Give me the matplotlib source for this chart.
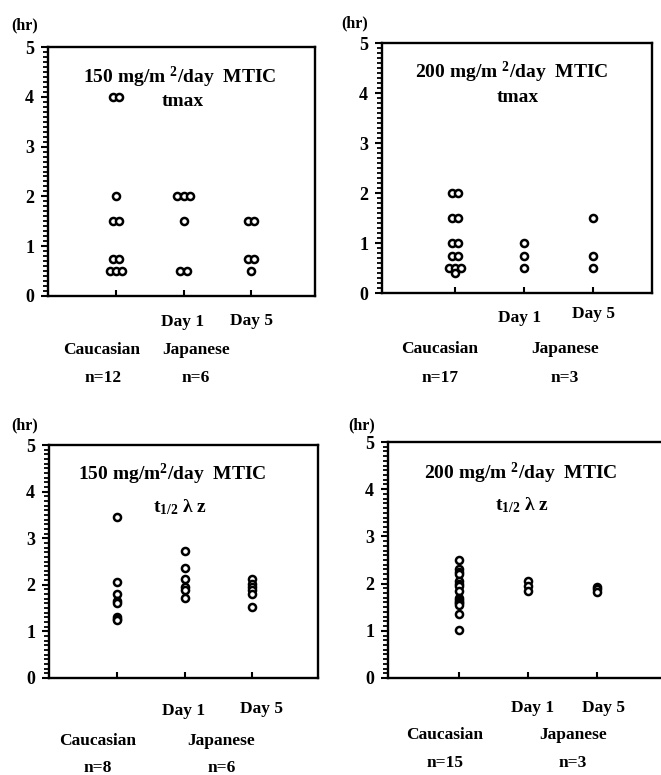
import numpy as np
import matplotlib
matplotlib.use("Agg")
import matplotlib.pyplot as plt
from matplotlib.ticker import MultipleLocator

plt.rcParams['font.family'] = ['Liberation Serif', 'DejaVu Serif']
plt.rcParams['font.weight'] = 'bold'
plt.rcParams['mathtext.default'] = 'regular'

W, H = 661, 775
DPI = 100

# ---------------- data ----------------
groups = ["Caucasian", "Day 1", "Day 5"]

tl_cauc = [4.0, 4.0, 2.0, 1.5, 1.5, 0.75, 0.75, 0.5, 0.5, 0.5]
tl_day1 = [2.0, 2.0, 2.0, 1.5, 0.5, 0.5]
tl_day5 = [1.5, 1.5, 0.75, 0.75, 0.5]

tr_cauc = [2.0, 2.0, 1.5, 1.5, 1.0, 1.0, 0.75, 0.75, 0.5, 0.5, 0.5, 0.4]
tr_day1 = [1.0, 0.75, 0.5]
tr_day5 = [1.5, 0.75, 0.5]

bl_cauc = [3.45, 2.05, 1.8, 1.65, 1.6, 1.3, 1.27, 1.25]
bl_day1 = [2.72, 2.37, 2.12, 1.95, 1.88, 1.72]
bl_day5 = [2.12, 2.02, 1.95, 1.88, 1.8, 1.52]

br_cauc = [2.5, 2.3, 2.25, 2.2, 2.05, 2.0, 1.95, 1.85, 1.7, 1.65, 1.62,
           1.58, 1.55, 1.35, 1.02]
br_day1 = [2.05, 1.95, 1.85]
br_day5 = [1.93, 1.88, 1.83]

titles = ["150 mg/m $^{2}$/day  MTIC", "200 mg/m $^{2}$/day  MTIC",
          "150 mg/m$^{2}$/day  MTIC", "200 mg/m $^{2}$/day  MTIC"]
subtitles = ["tmax", "tmax", "t$_{1/2}$ λ z", "t$_{1/2}$ λ z"]
n_labels = [("n=12", "n=6"), ("n=17", "n=3"), ("n=8", "n=6"), ("n=15", "n=3")]
spread_dups = [True, True, False, False]

panels = [
    (tl_cauc, tl_day1, tl_day5),
    (tr_cauc, tr_day1, tr_day5),
    (bl_cauc, bl_day1, bl_day5),
    (br_cauc, br_day1, br_day5),
]

# ---------------- layout (pixels) ----------------
layout = [
    dict(l=48, r=315, t=47, b=296, x1=116, x3=251,
         hr=(25, 25), tt=(180, 77), st=(183, 101),
         day=((183, 322), (251, 321)), eth=((102, 350), (196, 350)),
         nn=((103, 378), (196, 378))),
    dict(l=382, r=652, t=43, b=293, x1=455, x3=593,
         hr=(355, 23), tt=(512, 72), st=(518, 98),
         day=((520, 318), (593, 314)), eth=((440, 349), (565, 349)),
         nn=((440, 378), (565, 378))),
    dict(l=49, r=318, t=445, b=678, x1=117, x3=252,
         hr=(25, 425), tt=(172, 474), st=(180, 507),
         day=((184, 711), (261, 709)), eth=((98, 741), (221, 741)),
         nn=((98, 768), (222, 768))),
    dict(l=388, r=668, t=442, b=678, x1=459, x3=597,
         hr=(362, 425), tt=(521, 473), st=(522, 505),
         day=((533, 708), (603, 708)), eth=((445, 735), (573, 735)),
         nn=((445, 763), (573, 763))),
]

fig = plt.figure(figsize=(W / DPI, H / DPI), dpi=DPI)
FS = 12.5


def ftext(x, y, s, size=FS):
    fig.text(x / W, 1 - y / H, s, ha='center', va='center',
             fontsize=size, fontweight='bold')


def spread(vals, step=0.09):
    xs = []
    vals = list(vals)
    for i, v in enumerate(vals):
        same = [j for j, u in enumerate(vals) if u == v]
        k = len(same)
        idx = same.index(i)
        xs.append((idx - (k - 1) / 2) * step)
    return np.array(xs)


for p, (data, L) in enumerate(zip(panels, layout)):
    ax = fig.add_axes([L['l'] / W, 1 - L['b'] / H,
                       (L['r'] - L['l']) / W, (L['b'] - L['t']) / H])
    scale = (L['x3'] - L['x1']) / 2.0
    ax.set_xlim(1 - (L['x1'] - L['l']) / scale, 3 + (L['r'] - L['x3']) / scale)
    ax.set_ylim(0, 5)
    for gi, vals in enumerate(data):
        x0 = gi + 1
        off = spread(vals) if spread_dups[p] else np.zeros(len(vals))
        ax.plot(x0 + off, vals, linestyle='none', marker='o', ms=5.1,
                mfc='white', mec='black', mew=1.8, clip_on=False)
    for s in ax.spines.values():
        s.set_linewidth(1.7)
    ax.set_xticks([1, 2, 3])
    ax.set_xticklabels([])
    ax.tick_params(axis='x', direction='in', length=4, width=1.5)
    ax.set_yticks([0, 1, 2, 3, 4, 5])
    ax.yaxis.set_minor_locator(MultipleLocator(0.1))
    ax.tick_params(axis='y', which='major', direction='out', length=5,
                   width=1.5, labelsize=13, pad=5)
    ax.tick_params(axis='y', which='minor', direction='out', length=3.5,
                   width=1.3)
    for lab in ax.get_yticklabels():
        lab.set_fontweight('bold')

    ftext(*L['hr'], "(hr)", size=11.5)
    ftext(*L['tt'], titles[p], size=14)
    ftext(*L['st'], subtitles[p], size=14)
    ftext(*L['day'][0], groups[1])
    ftext(*L['day'][1], groups[2])
    ftext(*L['eth'][0], "Caucasian")
    ftext(*L['eth'][1], "Japanese")
    ftext(*L['nn'][0], n_labels[p][0])
    ftext(*L['nn'][1], n_labels[p][1])

fig.savefig("out.png", dpi=DPI)
